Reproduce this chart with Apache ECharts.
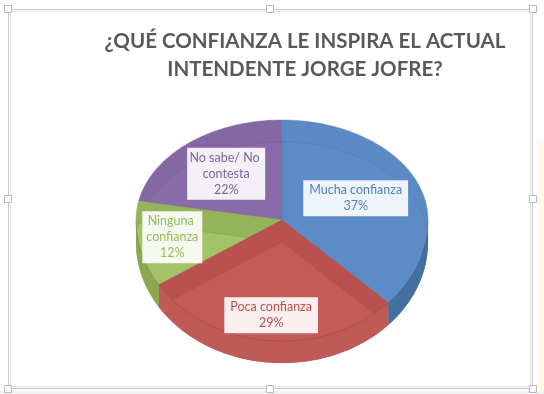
<!DOCTYPE html>
<html><head><meta charset="utf-8">
<script src="https://cdn.jsdelivr.net/npm/echarts@6/dist/echarts.min.js"></script>
<style>html,body{margin:0;padding:0;background:#fff}#c{width:544px;height:394px}</style>
</head><body><div id="c"></div>
<script>
// ---- data ----
const titleLines = ['¿QUÉ CONFIANZA LE INSPIRA EL ACTUAL', 'INTENDENTE JORGE JOFRE?'];
const categories = ['Mucha confianza', 'Poca confianza', 'Ninguna confianza', 'No sabe/ No contesta'];
const values = [37, 29, 12, 22];

// ---- styles ----
const topColors  = ['#5a89c4', '#b9524f', '#93b45a', '#8468a4'];
const faceColors = ['#5c8cc7', '#c45b58', '#a2c367', '#886ba8'];
const sideColors = ['#44709f', '#c05a57', '#8ca84f', '#7a5f9a'];
const textColors = ['#4f81bd', '#c0504d', '#9bbb59', '#8064a2'];
const labelRadius = [0.55, 0.79, 0.765, 0.6];
const labelWrap   = [null, null, 54, 74];
const labelPad    = [[2, 6], [2, 6], [2, 3], [2, 2]];

const total = values.reduce((a, b) => a + b, 0);
const G = { cx: 282, cy: 220, rx: 146, ryBack: 100, ryFront: 121, depth: 22 };

function proj(theta, r, dz) {
  const u = Math.sin(theta) * r, v = -Math.cos(theta) * r;
  return [G.cx + G.rx * u, G.cy + v * (v < 0 ? G.ryBack : G.ryFront) + (dz || 0)];
}
function arc(a0, a1, r, dz) {
  const pts = [];
  const n = Math.max(2, Math.ceil((a1 - a0) / (Math.PI / 180)));
  for (let k = 0; k <= n; k++) pts.push(proj(a0 + (a1 - a0) * k / n, r, dz));
  return pts;
}
function wedge(a0, a1, dz) {
  return [[G.cx, G.cy + (dz || 0)]].concat(arc(a0, a1, 1, dz));
}

function renderItem(params, api) {
  const i = params.dataIndex;
  const val = api.value(0);
  let before = 0;
  for (let k = 0; k < i; k++) before += values[k];
  const a0 = before / total * Math.PI * 2;
  const a1 = (before + val) / total * Math.PI * 2;
  const mid = (a0 + a1) / 2;
  const order = Math.round(-Math.cos(mid) * 100) + 200;
  const children = [];
  children.push({ type: 'polygon', z2: order, shape: { points: wedge(a0, a1, 0) },
    style: { fill: topColors[i], stroke: topColors[i], lineWidth: 0.5 } });
  children.push({ type: 'polygon', z2: order + 1, shape: { points: wedge(a0, a1, G.depth) },
    style: { fill: faceColors[i], stroke: 'rgba(90,60,60,0.12)', lineWidth: 1 } });
  const s0 = Math.max(a0, Math.PI / 2), s1 = Math.min(a1, Math.PI * 1.5);
  if (s1 > s0) {
    const topArc = arc(s0, s1, 1, 0);
    const botArc = arc(s0, s1, 1, G.depth).reverse();
    children.push({ type: 'polygon', z2: 600, shape: { points: topArc.concat(botArc) },
      style: { fill: sideColors[i] } });
    children.push({ type: 'polyline', z2: 601, shape: { points: topArc },
      style: { stroke: 'rgba(80,40,40,0.18)', lineWidth: 1, fill: null } });
  }
  const lp = proj(mid, labelRadius[i], 0);
  const st = {
    text: categories[i] + '\n' + Math.round(val / total * 100) + '%',
    align: 'center', verticalAlign: 'middle',
    fill: textColors[i], font: '12.5px Lato', lineHeight: 16,
    backgroundColor: 'rgba(255,255,255,0.9)', padding: labelPad[i],
    boxShadowBlur: 4, boxShadowColor: 'rgba(0,0,0,0.25)', boxShadowOffsetX: 1, boxShadowOffsetY: 1
  };
  if (labelWrap[i]) { st.width = labelWrap[i]; st.overflow = 'break'; }
  children.push({ type: 'text', z2: 1000, x: lp[0], y: lp[1], style: st });
  return { type: 'group', children: children };
}

const handles = [[8, 9], [270, 9], [533, 9], [8, 199], [533, 199], [8, 389], [270, 389], [533, 389]];

const chart = echarts.init(document.getElementById('c'), null, { renderer: 'canvas' });
chart.setOption({
  backgroundColor: '#ffffff',
  animation: false,
  title: {
    text: titleLines.join('\n'), left: 305, top: 27, textAlign: 'center', padding: 0,
    textStyle: { fontFamily: 'Lato', fontWeight: 'bold', fontSize: 20.5, lineHeight: 28, color: '#595959' }
  },
  graphic: [
    { type: 'rect', z: -10, shape: { x: 537, y: 140, width: 7, height: 254 }, style: { fill: '#fffbe6' } },
    { type: 'rect', z: -10, shape: { x: 0, y: 391, width: 544, height: 3 }, style: { fill: '#eef2f4' } },
    { type: 'rect', z: -5, shape: { x: 8.5, y: 9.5, width: 524, height: 379 }, style: { fill: null, stroke: '#c8c8c8', lineWidth: 1 } },
    { type: 'rect', z: -5, shape: { x: 10.5, y: 11.5, width: 520, height: 375 }, style: { fill: null, stroke: '#e4e4e4', lineWidth: 1 } }
  ].concat(handles.map(h => ({ type: 'rect', z: 5, shape: { x: h[0] - 3.5, y: h[1] - 3.5, width: 7, height: 7 },
    style: { fill: '#ffffff', stroke: '#b8b8b8', lineWidth: 1 } }))),
  series: [{
    type: 'custom',
    coordinateSystem: 'none',
    renderItem: renderItem,
    data: values.map((v, i) => ({ name: categories[i], value: [v] }))
  }]
});
</script></body></html>
